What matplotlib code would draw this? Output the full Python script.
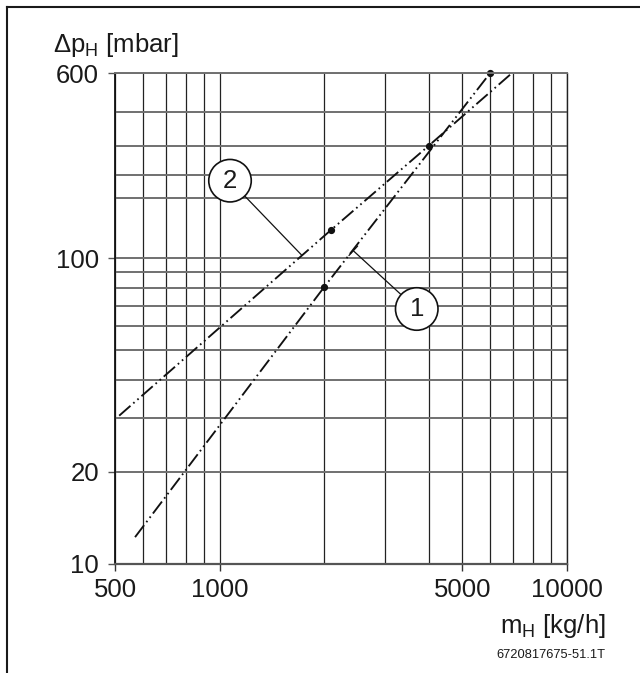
import numpy as np
import matplotlib
matplotlib.use('Agg')
import matplotlib.pyplot as plt
from matplotlib.lines import Line2D

plt.rcParams['font.family'] = ['Liberation Sans', 'DejaVu Sans']
plt.rcParams['mathtext.fontset'] = 'custom'
plt.rcParams['mathtext.rm'] = 'Liberation Sans'
plt.rcParams['mathtext.it'] = 'Liberation Sans'

# curve 1 (steep one)
flow_1 = [571, 2000, 6000]
dp_1 = [12.2, 80.5, 600]
flow_1_dots = [2000, 6000]
dp_1_dots = [80.5, 600]

# curve 2 (flatter one)
flow_2 = [514, 2090, 4000, 6930]
dp_2 = [30.5, 138, 400, 600]
flow_2_dots = [2090, 4000]
dp_2_dots = [138, 400]

x_major = [500, 1000, 5000, 10000]
x_major_labels = ['500', '1000', '5000', '10000']
x_minor = [600, 700, 800, 900, 2000, 3000, 4000, 6000, 7000, 8000, 9000]
y_major = [10, 20, 100, 600]
y_major_labels = ['10', '20', '100', '600']
y_minor = [30, 40, 50, 60, 70, 80, 90, 200, 300, 400, 500]

# the drawing's y axis is log below 100 and squeezed above it
knot_vals = np.log10([1, 10, 100, 200, 300, 400, 500, 600, 6000])
knot_pos = np.array([-305.2, 0, 305.2, 365.8, 388.2, 417.8, 451.8, 490.2, 728.0])


def forward(v):
    v = np.clip(np.asarray(v, dtype=float), 1e-3, None)
    return np.interp(np.log10(v), knot_vals, knot_pos)


def inverse(u):
    return 10 ** np.interp(np.asarray(u, dtype=float), knot_pos, knot_vals)


fig = plt.figure(figsize=(6.4, 6.73), dpi=100)
ax = fig.add_axes([0.1797, 0.1627, 0.7063, 0.7284])

ax.set_xscale('log')
ax.set_yscale('function', functions=(forward, inverse))
ax.set_xlim(500, 10000)
ax.set_ylim(10, 600)

ax.set_xticks(x_major, labels=x_major_labels)
ax.set_xticks(x_minor, minor=True)
ax.set_yticks(y_major, labels=y_major_labels)
ax.set_yticks(y_minor, minor=True)
ax.xaxis.set_minor_formatter(matplotlib.ticker.NullFormatter())
ax.yaxis.set_minor_formatter(matplotlib.ticker.NullFormatter())

ax.tick_params(which='minor', length=0)
ax.tick_params(axis='y', which='major', length=5, width=1.0, color='#555555',
               pad=6.5, labelsize=18.5, labelcolor='#1a1a1a')
ax.tick_params(axis='x', which='major', length=5, width=1.0, color='#333333',
               pad=5.5, labelsize=18.5, labelcolor='#1a1a1a')

ax.grid(which='both', axis='y', color='#707070', lw=1.4)
ax.grid(which='both', axis='x', color='#222222', lw=0.9)
ax.set_axisbelow(True)

ax.spines['left'].set(color='#111111', lw=1.3)
ax.spines['bottom'].set(color='#555555', lw=1.6)
ax.spines['top'].set(color='#707070', lw=1.4)
ax.spines['right'].set(color='#222222', lw=1.0)

dash_dot_dot = (0, (8, 2.0, 0.9, 2.0, 0.9, 2.0))
ax.plot(flow_1, dp_1, color='#111111', lw=1.35, linestyle=dash_dot_dot)
ax.plot(flow_2, dp_2, color='#111111', lw=1.35, linestyle=dash_dot_dot)
ax.plot(flow_1_dots, dp_1_dots, 'o', color='#111111', ms=4.2, clip_on=False)
ax.plot(flow_2_dots, dp_2_dots, 'o', color='#111111', ms=4.2, clip_on=False)

circle = dict(boxstyle='circle,pad=0.36', fc='white', ec='#111111', lw=1.2)
ax.annotate('2', xy=(1720, 104), xytext=(0.2544, 0.7809), textcoords='axes fraction',
            ha='center', va='center', fontsize=18.5, color='#1a1a1a', bbox=circle,
            arrowprops=dict(arrowstyle='-', color='#111111', lw=0.9,
                            shrinkA=0, shrinkB=0))
ax.annotate('1', xy=(2426, 109), xytext=(0.6675, 0.5192), textcoords='axes fraction',
            ha='center', va='center', fontsize=18.5, color='#1a1a1a', bbox=circle,
            arrowprops=dict(arrowstyle='-[, widthB=0.25, lengthB=0', color='#111111',
                            lw=0.9, shrinkA=0, shrinkB=0))

fig.text(0.0823, 0.9232, '\u0394p$_{\\mathregular{H}}$ [mbar]', fontsize=18.5,
         ha='left', va='baseline', color='#1a1a1a')
fig.text(0.9469, 0.059, 'm$_{\\mathregular{H}}$ [kg/h]', fontsize=18.5,
         ha='right', va='baseline', color='#1a1a1a')
fig.text(0.9464, 0.0218, '6720817675-51.1T', fontsize=9.3,
         ha='right', va='baseline', color='#1a1a1a')

# frame on the left and top of the page
fig.add_artist(Line2D([0.0117, 0.0117], [0, 0.9889], color='#1a1a1a', lw=1.5,
                      transform=fig.transFigure))
fig.add_artist(Line2D([0.0117, 1.0], [0.9889, 0.9889], color='#1a1a1a', lw=1.5,
                      transform=fig.transFigure))

fig.savefig('out.png', dpi=100)
